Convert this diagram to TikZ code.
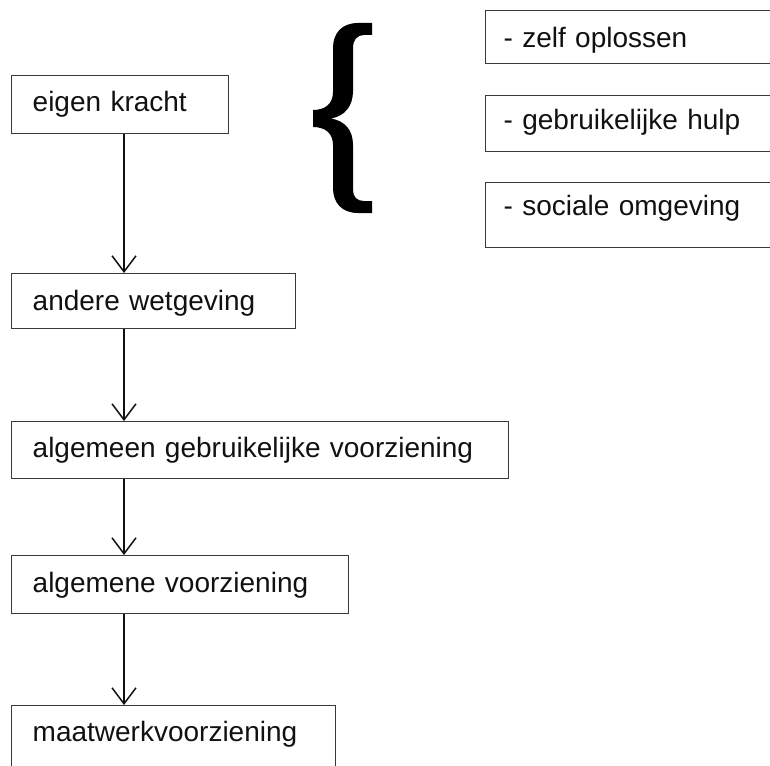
\documentclass[tikz,border=0pt]{standalone}
\usepackage{fontspec}
\setmainfont{Liberation Sans}
\usepackage{tikz}
\usetikzlibrary{arrows.meta}
\definecolor{ink}{HTML}{111111}
\definecolor{frame}{HTML}{3A3A3A}
\tikzset{
  box/.style={draw=frame, line width=1.4pt, anchor=north west, inner xsep=21pt, inner ysep=0pt,
    align=left, text=ink, font=\fontsize{28}{32}\selectfont},
  sidebox/.style={box, inner xsep=18pt, text width=264pt},
  flow/.style={draw=ink, line width=1.5pt, -{Straight Barb[length=16pt, width=24pt]}},
  brace/.style={fill=black},
}

\begin{document}
\begin{tikzpicture}[x=1pt, y=-1pt]
\useasboundingbox (0,0) rectangle (770,765);
\clip (0,0) rectangle (770,765);

% main chain
\node[box, text width=175pt, text height=36pt, text depth=22pt] (eigen) at (11,75) {eigen kracht};
\node[box, text width=242pt, text height=37pt, text depth=18pt] (andere) at (11,273) {andere wetgeving};
\node[box, text width=455pt, text height=36pt, text depth=21pt] (gebruik) at (11,421) {algemeen gebruikelijke voorziening};
\node[box, text width=295pt, text height=37pt, text depth=21pt] (algemeen) at (11,555) {algemene voorziening};
\node[box, text width=282pt, text height=36pt, text depth=30pt] (maatwerk) at (11,705) {maatwerkvoorziening};

\draw[flow] ([xshift=113pt]eigen.south west) -- ([xshift=113pt]andere.north west);
\draw[flow] ([xshift=113pt]andere.south west) -- ([xshift=113pt]gebruik.north west);
\draw[flow] ([xshift=113pt]gebruik.south west) -- ([xshift=113pt]algemeen.north west);
\draw[flow] ([xshift=113pt]algemeen.south west) -- ([xshift=113pt]maatwerk.north west);

% brace
\path[brace] (372,23) -- (358,23) .. controls (342,23) and (333,33) .. (333,48)
  -- (333,92) .. controls (333,104) and (325,110) .. (313,110)
  -- (313,127) .. controls (325,127) and (333,133) .. (333,145)
  -- (333,188) .. controls (333,203) and (342,213) .. (358,213)
  -- (372,213) -- (372,201) -- (364,201) .. controls (357,201) and (353,197) .. (353,190)
  -- (353,145) .. controls (353,130) and (345,121) .. (331,118.5)
  .. controls (345,116) and (353,106) .. (353,91)
  -- (353,48) .. controls (353,40) and (357,35) .. (364,35)
  -- (372,35) -- cycle;

% eigen kracht options
\node[sidebox, text height=37pt, text depth=16pt] (zelf) at (485,10) {- zelf oplossen};
\node[sidebox, text height=34pt, text depth=22pt] (hulp) at (485,95) {- gebruikelijke hulp};
\node[sidebox, text height=33pt, text depth=32pt] (sociaal) at (485,182) {- sociale omgeving};
\end{tikzpicture}
\end{document}
